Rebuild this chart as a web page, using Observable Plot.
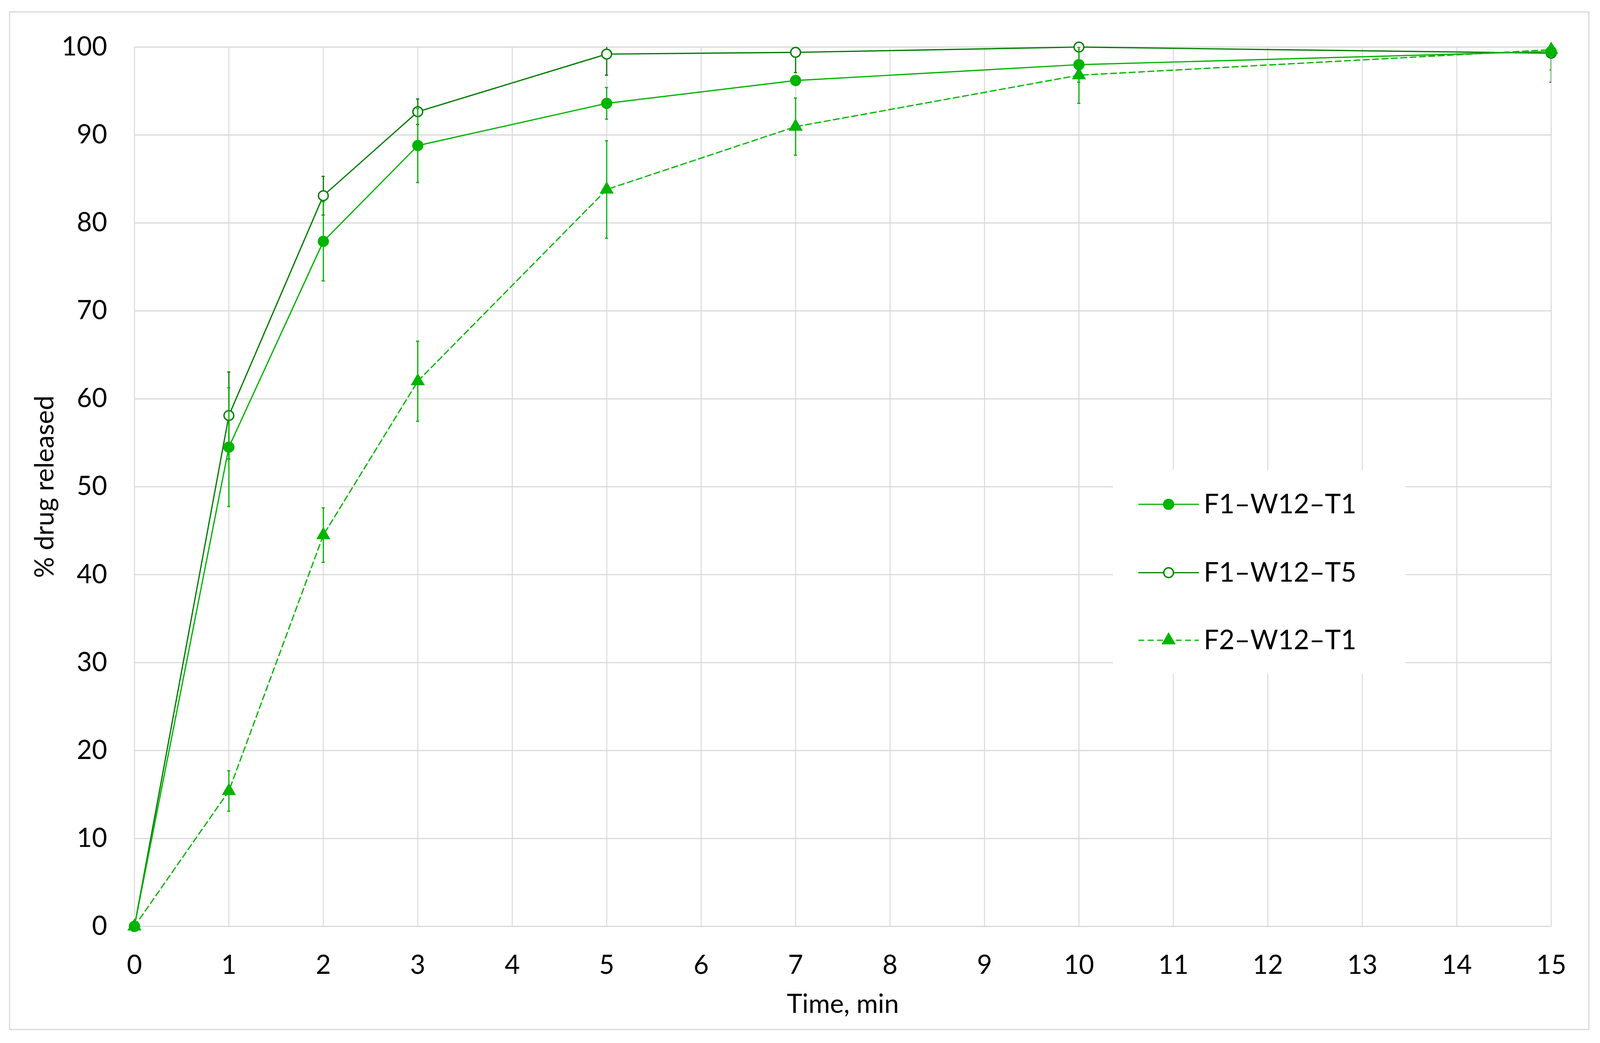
<!DOCTYPE html>
<html>
<head>
<meta charset="utf-8">
<script src="https://cdn.jsdelivr.net/npm/d3@7"></script>
<script src="https://cdn.jsdelivr.net/npm/@observablehq/plot@0.6"></script>
<style>
  html, body { margin: 0; padding: 0; background: white; overflow: hidden; }
  #wrap { position: relative; overflow: hidden; background: white; }
  #border { position: absolute; box-sizing: border-box; border: 3px solid #d9d9d9; pointer-events: none; }
  #legend { position: absolute; }
</style>
</head>
<body>
<div id="wrap"><div id="border"></div></div>
<script>
// ---- data ----
const times = [0, 1, 2, 3, 5, 7, 10, 15];
const seriesNames = ["F1–W12–T1", "F1–W12–T5", "F2–W12–T1"];
const t1Values = [0, 54.5, 77.9, 88.8, 93.6, 96.2, 98.0, 99.5];
const t1Errors = [0, 6.75, 4.5, 4.2, 1.8, 0.5, 2.0, 2.1];
const t5Values = [0, 58.1, 83.1, 92.65, 99.2, 99.4, 100, 99.3];
const t5Errors = [0, 4.95, 2.2, 1.45, 2.4, 2.3, 0.5, 3.3];
const f2Values = [0, 15.4, 44.5, 62.0, 83.8, 90.95, 96.8, 99.7];
const f2Errors = [0, 2.3, 3.1, 4.55, 5.55, 3.25, 3.2, 0.5];
const xTicks = [0, 1, 2, 3, 4, 5, 6, 7, 8, 9, 10, 11, 12, 13, 14, 15];
const yTicks = [0, 10, 20, 30, 40, 50, 60, 70, 80, 90, 100];
const xLabel = "Time, min";
const yLabel = "% drug released";

// ---- layout: designed for 4279x2670, mapped onto the real viewport ----
const W0 = 4279, H0 = 2670;
const W = window.innerWidth || W0, H = window.innerHeight || H0;
const kx = W / W0, ky = H / H0, k = Math.min(kx, ky);
const X = v => v * kx, Y = v => v * ky, S = v => v * k;

const wrap = document.getElementById("wrap");
wrap.style.width = W + "px";
wrap.style.height = H + "px";
const border = document.getElementById("border");
Object.assign(border.style, {left: X(24) + "px", top: Y(29) + "px", width: X(4227) + "px", height: Y(2608) + "px"});

// ---- styles ----
const bright = "#00b400";
const dark = "#007c00";
const fontSize = S(70);
const series = [
  {name: seriesNames[1], values: t5Values, errors: t5Errors, color: dark, symbol: "circle", fill: "white", r: 13, dash: null},
  {name: seriesNames[0], values: t1Values, errors: t1Errors, color: bright, symbol: "circle", fill: bright, r: 15, dash: null},
  {name: seriesNames[2], values: f2Values, errors: f2Errors, color: bright, symbol: "triangle", fill: bright, r: 14, dash: "15,9"}
];
const rowsOf = s => times.map((t, i) => ({t, v: s.values[i], e: s.errors[i]}));
const fmt = d => String(d);

const marks = [
  Plot.gridY(yTicks, {stroke: "#d9d9d9", strokeOpacity: 1, strokeWidth: 3}),
  Plot.gridX(xTicks, {stroke: "#d9d9d9", strokeOpacity: 1, strokeWidth: 2.5}),
  Plot.axisX(xTicks, {tickSize: 0, tickPadding: Y(74), label: null, fontSize, tickFormat: fmt}),
  Plot.axisY(yTicks, {tickSize: 0, tickPadding: X(73), label: null, fontSize, tickFormat: fmt}),
  Plot.text([xLabel], {frameAnchor: "bottom", dy: Y(200), lineAnchor: "middle", fontSize, fill: "black"}),
  Plot.text([yLabel], {frameAnchor: "left", dx: -X(239), rotate: -90, lineAnchor: "middle", textAnchor: "middle", fontSize, fill: "black"})
];

for (const s of series) {
  const rows = rowsOf(s);
  const errRows = rows.filter(d => d.e > 0);
  marks.push(
    Plot.line(rows, {x: "t", y: "v", stroke: s.color, strokeWidth: 3.2, strokeDasharray: s.dash}),
    Plot.ruleX(errRows, {x: "t", y1: d => d.v - d.e, y2: d => d.v + d.e, stroke: s.color, strokeWidth: 3, clip: true}),
    Plot.ruleY(errRows, {y: d => d.v - d.e, x1: "t", x2: "t", insetLeft: -4, insetRight: -4, stroke: s.color, strokeWidth: 3, clip: true}),
    Plot.ruleY(errRows, {y: d => d.v + d.e, x1: "t", x2: "t", insetLeft: -4, insetRight: -4, stroke: s.color, strokeWidth: 3, clip: true}),
    Plot.dot(rows, {x: "t", y: "v", symbol: s.symbol, r: S(s.r), fill: s.fill, stroke: s.fill === "white" ? s.color : "none", strokeWidth: 3.5})
  );
}

const chart = Plot.plot({
  width: W,
  height: H,
  marginLeft: X(359),
  marginRight: X(131),
  marginTop: Y(120),
  marginBottom: Y(299),
  x: {domain: [0, 15]},
  y: {domain: [0, 100]},
  style: {fontFamily: "Lato, 'Open Sans', sans-serif", fontSize: fontSize + "px", background: "white", color: "black", display: "block"},
  marks
});
wrap.prepend(chart);

// ---- legend (added over the chart as a separate svg) ----
const legendOrder = [series[1], series[0], series[2]];
const lw = X(783), lh = Y(522);
const leg = d3.select("#wrap").append("svg")
  .attr("id", "legend").attr("width", lw).attr("height", lh)
  .style("left", X(2976) + "px").style("top", Y(1203) + "px")
  .style("font-family", "Lato, 'Open Sans', sans-serif");
leg.append("rect").attr("width", lw).attr("height", lh).attr("fill", "white");
const rowY = [88, 263, 436];
legendOrder.forEach((s, i) => {
  const g = leg.append("g").attr("transform", `translate(0,${Y(rowY[i])})`);
  g.append("line").attr("x1", X(68)).attr("x2", X(230)).attr("y1", 0).attr("y2", 0)
    .attr("stroke", s.color).attr("stroke-width", 3.2).attr("stroke-dasharray", s.dash);
  const sym = s.symbol === "triangle" ? d3.symbolTriangle : d3.symbolCircle;
  g.append("path").attr("transform", `translate(${X(149)},0)`)
    .attr("d", d3.symbol(sym, Math.PI * S(s.r) * S(s.r))())
    .attr("fill", s.fill).attr("stroke", s.fill === "white" ? s.color : "none").attr("stroke-width", 3.5);
  g.append("text").attr("x", X(243)).attr("y", 0).attr("dy", "0.34em")
    .attr("font-size", S(72)).attr("fill", "black").text(s.name);
});
</script>
</body>
</html>
